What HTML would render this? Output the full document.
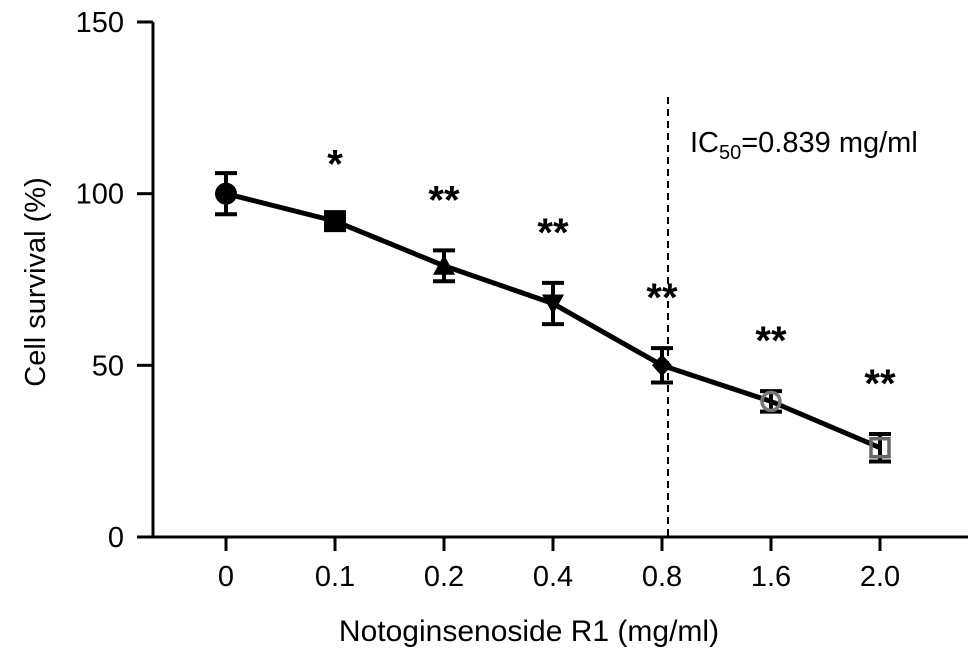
<!DOCTYPE html>
<html><head><meta charset="utf-8">
<style>
html,body{margin:0;padding:0;background:#fff;}
svg{display:block;font-family:"Liberation Sans",Arial,sans-serif;}
</style></head>
<body>
<svg id="chart" width="969" height="657" viewBox="0 0 969 657" xmlns="http://www.w3.org/2000/svg"></svg>
<script>
const categories = ["0","0.1","0.2","0.4","0.8","1.6","2.0"];
const survival = [100, 92, 79, 68, 50, 39.5, 26];
const errors = [6, 2, 4.5, 6, 5, 3, 4];
const significance = ["", "*", "**", "**", "**", "**", "**"];
const yTicks = [0, 50, 100, 150];
const ic50Value = 0.839;

const NS = "http://www.w3.org/2000/svg";
const svg = document.getElementById("chart");
const X0 = 153, Y0 = 537, YTOP = 22, XEND = 968;
function yScale(v){ return Y0 - (v/150)*(Y0-YTOP); }
function xScale(i){ return 226 + i*109; }
function mk(tag, attrs, parent){
  const e = document.createElementNS(NS, tag);
  for (const k in attrs) e.setAttribute(k, attrs[k]);
  (parent||svg).appendChild(e);
  return e;
}
let g = mk("g", {});


mk("line", {x1:X0, y1:YTOP, x2:X0, y2:Y0+1.5, stroke:"#000", "stroke-width":3}, g);
yTicks.forEach(t => {
  const y = yScale(t);
  mk("line", {x1:X0-16, y1:y, x2:X0, y2:y, stroke:"#000", "stroke-width":3}, g);
  const tx = mk("text", {x:X0-29, y:y+10, "text-anchor":"end", "font-size":29}, g);
  tx.textContent = t;
  
  
});
let yt = mk("text", {x:0, y:0, "text-anchor":"middle", "font-size":29, transform:"translate(45,282) rotate(-90)"});
yt.textContent = "Cell survival (%)";



let gx = mk("g", {});


mk("line", {x1:X0-1.5, y1:Y0, x2:XEND, y2:Y0, stroke:"#000", "stroke-width":3}, gx);
categories.forEach((c,i) => {
  const x = xScale(i);
  mk("line", {x1:x, y1:Y0, x2:x, y2:Y0+14, stroke:"#000", "stroke-width":3}, gx);
  const tx = mk("text", {x:x, y:Y0+49, "text-anchor":"middle", "font-size":29}, gx);
  tx.textContent = c;
  
  
});
let xt = mk("text", {x:529, y:641, "text-anchor":"middle", "font-size":30});
xt.textContent = "Notoginsenoside R1 (mg/ml)";



const xd = 668;
let dl = mk("line", {x1:xd, y1:97, x2:xd, y2:Y0, stroke:"#000", "stroke-width":2, "stroke-dasharray":"7,5"});


let ic = mk("text", {x:690, y:152, "font-size":29});
ic.innerHTML = 'IC<tspan font-size="20" dy="7">50</tspan><tspan dy="-7">=' + ic50Value + ' mg/ml</tspan>';



const pts = survival.map((v,i)=> xScale(i)+","+yScale(v)).join(" ");
let pl = mk("polyline", {points:pts, fill:"none", stroke:"#000", "stroke-width":5, "stroke-linejoin":"round"});



survival.forEach((v,i) => {
  const x = xScale(i), y = yScale(v);
  const eg = mk("g", {});
  
  
  const yt2 = yScale(v+errors[i]), yb = yScale(v-errors[i]);
  mk("line", {x1:x, y1:yt2, x2:x, y2:yb, stroke:"#000", "stroke-width":4}, eg);
  mk("line", {x1:x-11, y1:yt2, x2:x+11, y2:yt2, stroke:"#000", "stroke-width":4}, eg);
  mk("line", {x1:x-11, y1:yb, x2:x+11, y2:yb, stroke:"#000", "stroke-width":4}, eg);
  let m;
  if (i===0) m = mk("circle", {cx:x, cy:y, r:11, fill:"#000"});
  else if (i===1) m = mk("rect", {x:x-11, y:y-11, width:22, height:22, fill:"#000"});
  else if (i===2) m = mk("polygon", {points:`${x},${y-11} ${x+11},${y+9} ${x-11},${y+9}`, fill:"#000"});
  else if (i===3) m = mk("polygon", {points:`${x},${y+11} ${x+11},${y-9} ${x-11},${y-9}`, fill:"#000"});
  else if (i===4) m = mk("polygon", {points:`${x},${y-11} ${x+10},${y} ${x},${y+11} ${x-10},${y}`, fill:"#000"});
  else if (i===5) m = mk("circle", {cx:x, cy:y, r:9, fill:"none", stroke:"#777", "stroke-width":3.5});
  else m = mk("rect", {x:x-9, y:y-9, width:18, height:18, fill:"none", stroke:"#666", "stroke-width":3.5});
  
  
  if (significance[i]) {
    const s = mk("text", {x:x, y:yt2-37, "text-anchor":"middle", "font-size":40, "font-weight":"bold"});
    s.textContent = significance[i];
    
    
  }
});
</script>
</body></html>
